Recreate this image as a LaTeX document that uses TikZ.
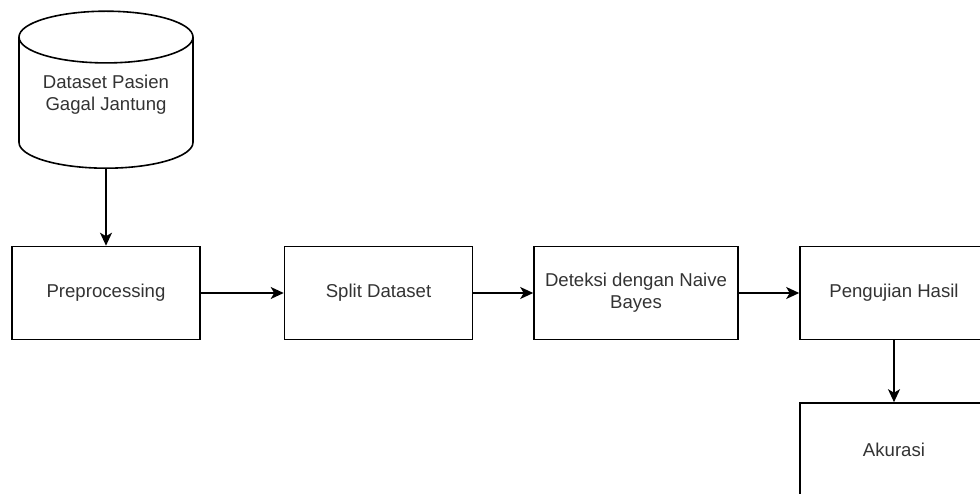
\documentclass[tikz,border=0pt]{standalone}
\usepackage{fontspec}
\setmainfont{Liberation Sans}
\usetikzlibrary{shapes.geometric, arrows.meta}
\definecolor{txtgray}{HTML}{333333}

\begin{document}
\begin{tikzpicture}[x=1pt, y=-1pt]

\tikzset{step box/.style = {shape=rectangle, draw, line width=1.6pt, minimum width=188pt, minimum height=93pt, inner sep=0pt, text=txtgray, font=\fontsize{18.6}{22}\selectfont, align=center}}
\tikzset{data store/.style = {shape=cylinder, shape border rotate=90, shape aspect=0.41, draw, line width=1.6pt, minimum width=174pt, minimum height=157pt, inner sep=0pt, text=txtgray, text depth=20pt, font=\fontsize{18.6}{22}\selectfont, align=center}}
\tikzset{edge/.style = {-{Stealth[length=13pt, width=12pt, inset=3.5pt]}, line width=1.6pt}}
\useasboundingbox (0,0) rectangle (980,494);
%verticies
\node[data store, anchor=south] (data) at (106,169) {Dataset Pasien\\Gagal Jantung};
\node[step box] (prep) at (106,293) {Preprocessing};
\node[step box] (split) at (378.5,293) {Split Dataset};
\node[step box, minimum width=204pt] (detect) at (636,293) {Deteksi dengan Naive\\Bayes};
\node[step box] (test) at (894,293) {Pengujian Hasil};
\node[step box] (acc) at (894,449.5) {Akurasi};
%edges
\draw[edge] (data.south) -- (prep.north);
\draw[edge] (prep) -- (split);
\draw[edge] (split) -- (detect);
\draw[edge] (detect) -- (test);
\draw[edge] (test) -- (acc);

\end{tikzpicture}
\end{document}
